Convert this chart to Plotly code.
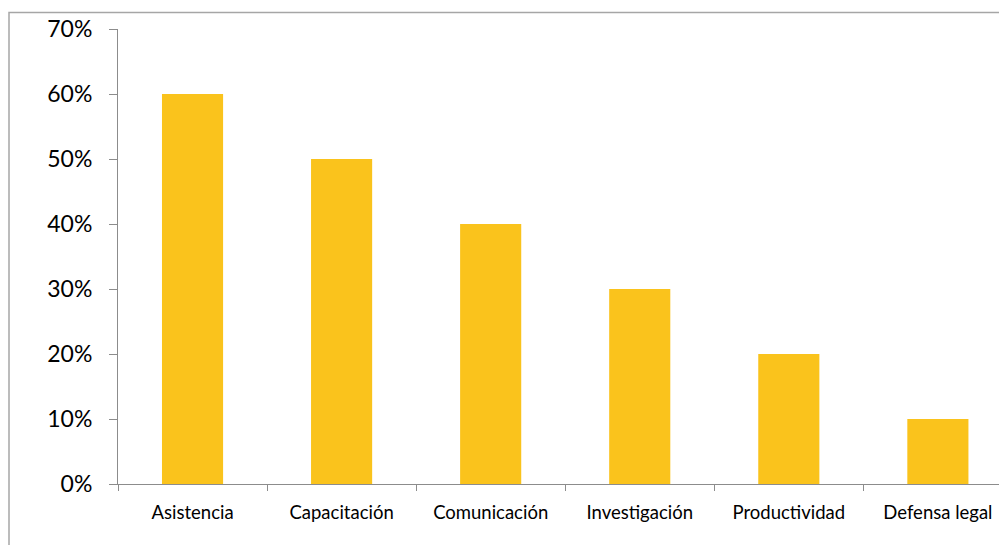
import plotly.graph_objects as go

categories = ["Asistencia", "Capacitación", "Comunicación", "Investigación", "Productividad", "Defensa legal"]
values = [0.60, 0.50, 0.40, 0.30, 0.20, 0.10]
y_tickvals = [0, 0.1, 0.2, 0.3, 0.4, 0.5, 0.6, 0.7]
y_ticktext = ["0%", "10%", "20%", "30%", "40%", "50%", "60%", "70%"]

W, H = 999, 545
L, R, T, B = 118, 0, 29, 61

fig = go.Figure()
fig.add_trace(go.Bar(
    x=categories, y=values, width=0.41,
    marker=dict(color="#FAC31C", line=dict(width=0)),
    hoverinfo="x+y",
))

plot_w = W - L - R
plot_h = H - T - B
# frame (chart border), cropped at right and bottom as in the reference
fx = (9 - L) / plot_w
fy_top = (H - B - 12.5) / plot_h
fy_bot = (H - B - H - 5) / plot_h
fig.add_shape(type="path", xref="paper", yref="paper",
              path=f"M {fx},{fy_bot} L {fx},{fy_top} L 1.05,{fy_top}",
              line=dict(color="#A6A6A6", width=1.5))

fig.update_layout(
    width=W, height=H,
    margin=dict(l=L, r=R, t=T, b=B, pad=0),
    paper_bgcolor="white", plot_bgcolor="white",
    showlegend=False,
    bargap=0.6,
    font=dict(family="Lato, Open Sans, sans-serif", color="#000000"),
)
fig.update_xaxes(
    type="category", range=[-0.5, 5.41],
    showline=True, linecolor="#8C8C8C", linewidth=1,
    ticks="outside", tickson="boundaries", ticklen=6, tickcolor="#8C8C8C",
    showgrid=False, tickfont=dict(size=18.5), ticklabelstandoff=12,
)
fig.update_yaxes(
    range=[0, 0.7], tickvals=y_tickvals, ticktext=y_ticktext,
    showline=True, linecolor="#8C8C8C", linewidth=1,
    ticks="outside", ticklen=8, tickcolor="#8C8C8C",
    showgrid=False, zeroline=False, tickfont=dict(size=23), ticklabelstandoff=12,
)

fig.write_html("out.html", config={"displayModeBar": False},
               post_script="document.body.style.margin='0';document.body.style.overflow='hidden';")
